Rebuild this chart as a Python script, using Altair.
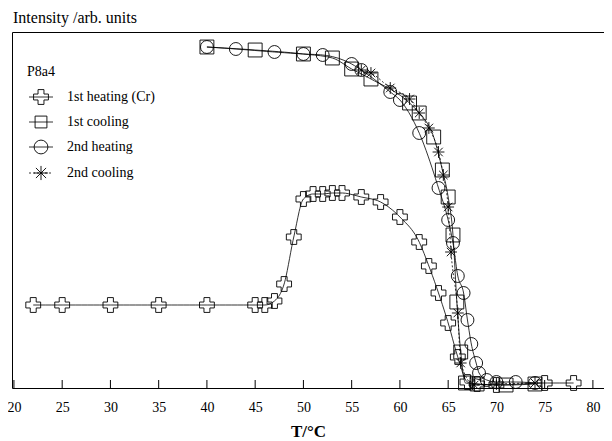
import altair as alt
import pandas as pd

# ---- data ----
series_names = ["1st heating (Cr)", "1st cooling", "2nd heating", "2nd cooling"]

heat1_T = [22, 25, 30, 35, 40, 45, 46, 47, 48, 49, 50, 51, 52, 53, 54, 56, 58, 60, 62, 63, 64, 65, 66, 67, 68, 70, 75, 78]
heat1_I = [83, 83, 83, 83, 83, 83, 83, 87, 104, 151, 189, 194, 194, 195, 195, 191, 186, 171, 146, 122, 95, 65, 31, 6, 4, 3, 5, 5]

cool1_T = [40, 45, 50, 53, 55, 57, 61, 62, 63.5, 64.4, 65, 65.5, 65.9, 66.3, 66.8, 68, 71, 74]
cool1_I = [341, 338, 334, 330, 319, 309, 285, 275, 251, 218, 191, 153, 86, 36, 5, 4, 3, 4]

heat2_T = [40, 43, 47, 50, 52, 55, 56, 59, 60, 62, 64, 65, 65.5, 66, 66.6, 67, 67.4, 67.9, 68.2, 69, 70, 72, 74]
heat2_I = [341, 339, 336, 334, 333, 324, 318, 296, 288, 255, 200, 168, 145, 112, 95, 68, 44, 25, 15, 8, 6, 6, 5]

cool2_T = [56, 57, 59, 61, 62, 63, 64, 64.5, 65, 65.3, 66, 66.3, 67.7, 70, 74]
cool2_I = [318, 315, 300, 289, 275, 260, 236, 213, 181, 136, 75, 25, 3, 4, 5]

x_ticks = [20, 25, 30, 35, 40, 45, 50, 55, 60, 65, 70, 75, 80]

FONT = "Liberation Serif"
ASTERISK = "M-1,0L1,0M0,-1L0,1M-0.72,-0.72L0.72,0.72M-0.72,0.72L0.72,-0.72"
shapes = ["cross", "square", "circle", ASTERISK]
sizes = [220, 140, 190, 200]
dashes = [[6, 0], [6, 0], [6, 0], [2, 2]]

W, H = 592, 356

rows = []
for name, T, I in zip(series_names, [heat1_T, cool1_T, heat2_T, cool2_T],
                      [heat1_I, cool1_I, heat2_I, cool2_I]):
    for t, v in zip(T, I):
        rows.append({"T": t, "I": v, "series": name})
df = pd.DataFrame(rows)

xs = alt.Scale(domain=[19.8, 81.15], nice=False, zero=False)
ys = alt.Scale(domain=[0, 356], nice=False, zero=False)
xaxis = alt.Axis(values=x_ticks, title="T/°C", grid=False, domain=False, tickSize=0,
                 labelFont=FONT, labelFontSize=14, labelColor="black", labelPadding=12,
                 titleFont=FONT, titleFontSize=17, titleFontWeight="bold", titleColor="black",
                 titlePadding=9)

base = alt.Chart(df)
lines = base.mark_line(color="black", strokeWidth=0.8, interpolate="monotone").encode(
    x=alt.X("T:Q", scale=xs, axis=xaxis),
    y=alt.Y("I:Q", scale=ys, axis=None),
    detail="series:N",
    strokeDash=alt.StrokeDash("series:N", scale=alt.Scale(domain=series_names, range=dashes), legend=None),
)
points = base.mark_point(filled=False, color="black", strokeWidth=0.9, opacity=1).encode(
    x=alt.X("T:Q", scale=xs, axis=xaxis),
    y=alt.Y("I:Q", scale=ys, axis=None),
    shape=alt.Shape("series:N", scale=alt.Scale(domain=series_names, range=shapes), legend=None),
    size=alt.Size("series:N", scale=alt.Scale(domain=series_names, range=sizes), legend=None),
)

tick_df = pd.DataFrame({"T": x_ticks})
ticks = alt.Chart(tick_df).mark_rule(color="black", strokeWidth=1).encode(
    x=alt.X("T:Q", scale=xs, axis=xaxis), y=alt.value(H), y2=alt.value(H - 8))

layers = [lines, points, ticks]

ytitle = alt.Chart(pd.DataFrame({"t": ["Intensity /arb. units"]})).mark_text(
    align="left", baseline="middle", font=FONT, fontSize=16, color="black").encode(
    text="t:N", x=alt.value(1), y=alt.value(-14))
layers.append(ytitle)

leg_title = alt.Chart(pd.DataFrame({"t": ["P8a4"]})).mark_text(
    align="left", baseline="middle", font=FONT, fontSize=14, color="black").encode(
    text="t:N", x=alt.value(15), y=alt.value(40))
layers.append(leg_title)

leg_y = [65, 90, 115, 141]
for i, name in enumerate(series_names):
    d = pd.DataFrame({"t": [name]})
    layers.append(alt.Chart(d).mark_rule(color="black", strokeWidth=0.8, strokeDash=dashes[i]).encode(
        x=alt.value(17), x2=alt.value(41), y=alt.value(leg_y[i])))
    layers.append(alt.Chart(d).mark_point(shape=shapes[i], size=sizes[i], filled=False,
                                          color="black", strokeWidth=0.9, opacity=1).encode(
        x=alt.value(29), y=alt.value(leg_y[i])))
    layers.append(alt.Chart(d).mark_text(align="left", baseline="middle", font=FONT,
                                         fontSize=14, color="black").encode(
        text="t:N", x=alt.value(55), y=alt.value(leg_y[i])))

chart = alt.layer(*layers).properties(
    width=W, height=H,
    autosize=alt.AutoSizeParams(type="none"),
    padding={"left": 4, "top": 24, "right": 0, "bottom": 53},
    background="white",
).configure_view(stroke="black", strokeWidth=1)

chart.save("out.html", embed_options={"renderer": "svg", "actions": False})
